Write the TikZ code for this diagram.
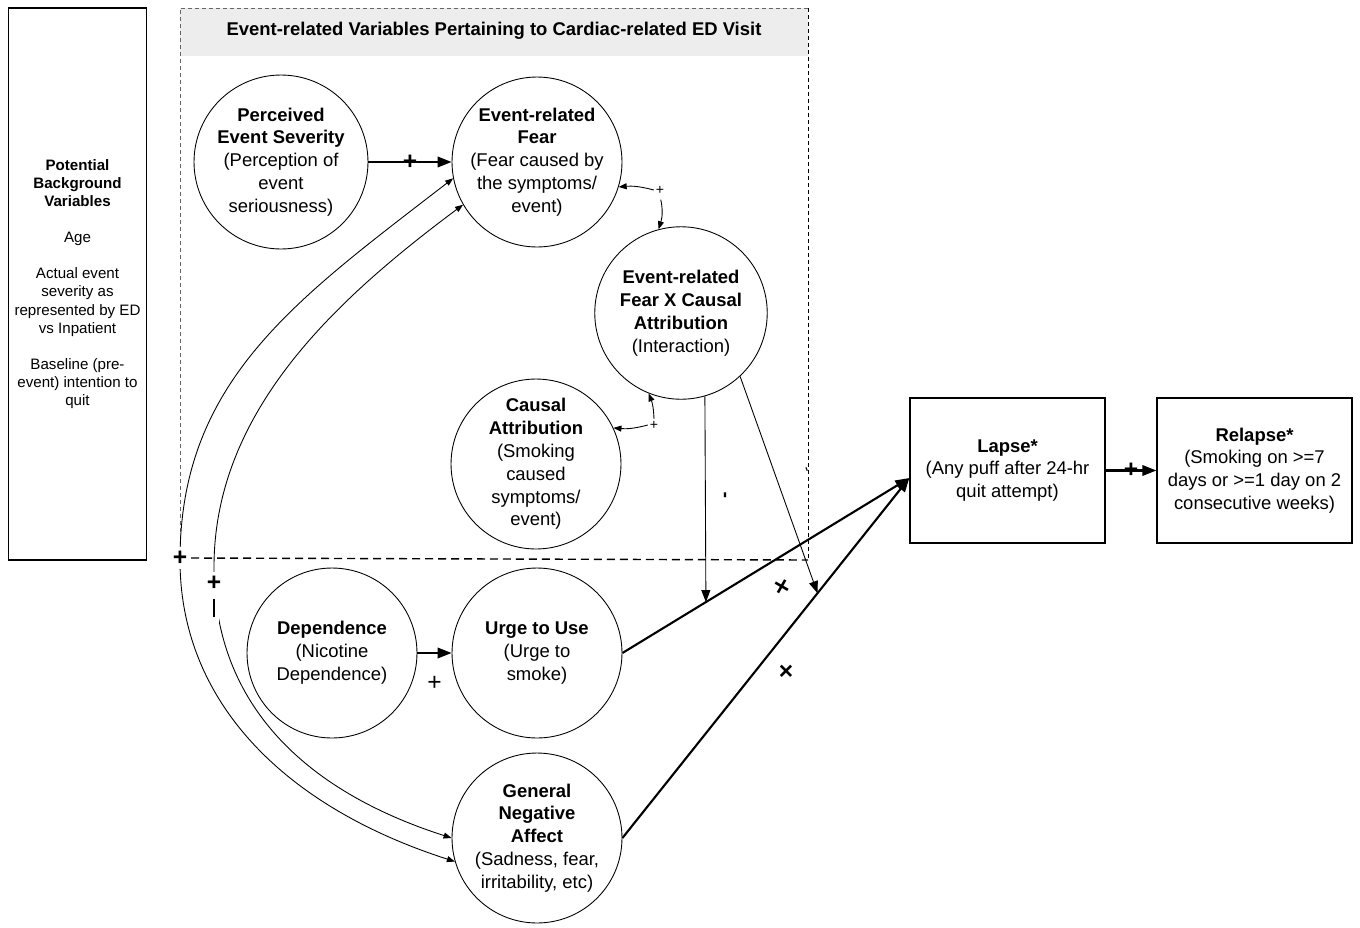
\documentclass[tikz,border=0pt]{standalone}
\usepackage{fontspec}
\setmainfont{Liberation Sans}
\usetikzlibrary{arrows.meta,calc}

\begin{document}
\begin{tikzpicture}[x=0.02cm, y=-0.02cm,
    var/.style={circle, draw, line width=0.5pt, minimum size=3.4cm, inner sep=-4pt,
                align=center, font=\fontsize{10.5}{13}\selectfont},
    box/.style={rectangle, draw, thick, minimum width=3.9cm, minimum height=2.9cm,
                align=center, font=\fontsize{10.5}{13}\selectfont},
    link/.style={very thick, -{Triangle[length=0.28cm, width=0.21cm]}},
    midlink/.style={line width=0.5pt, -{Triangle[length=0.24cm, width=0.18cm]}},
    thinlink/.style={line width=0.5pt, -{Triangle[length=0.16cm, width=0.12cm]}},
    twolink/.style={line width=0.5pt, {Triangle[length=0.16cm, width=0.12cm]}-{Triangle[length=0.16cm, width=0.12cm]}},
    sign/.style={font=\bfseries\fontsize{14}{14}\selectfont, inner sep=1pt},
    smallsign/.style={font=\fontsize{8}{8}\selectfont, inner sep=1pt}]
\useasboundingbox (0,0) rectangle (1360,927);
% background variables
\node[draw, thick, minimum width=2.7cm, minimum height=11.04cm, align=center,
      font=\fontsize{8.6}{10.3}\selectfont] (bg) at (77.5,284)
  {\textbf{Potential}\\\textbf{Background}\\\textbf{Variables}\\[0.36cm]Age\\[0.36cm]Actual event\\severity as\\represented by ED\\vs Inpatient\\[0.36cm]Baseline (pre-\\event) intention to\\quit};
% event-related frame with header band
\fill[black!7] (180,8) rectangle (808,56);
\draw[black!60, line width=0.5pt, dash pattern=on 0.08cm off 0.06cm] (180,560) -- (180,8) -- (808,8);
\draw[line width=0.5pt, dash pattern=on 0.08cm off 0.06cm] (808,8) -- (808,560);
\node[font=\bfseries\fontsize{10.5}{13}\selectfont] (title) at (494,31)
  {Event-related Variables Pertaining to Cardiac-related ED Visit};
% variables
\node[var, minimum size=3.48cm] (pes) at (281,162)
  {\textbf{Perceived}\\\textbf{Event Severity}\\(Perception of\\event\\seriousness)};
\node[var] (erf) at (537,162)
  {\textbf{Event-related}\\\textbf{Fear}\\(Fear caused by\\the symptoms/\\event)};
\node[var, minimum size=3.45cm] (efca) at (681,313)
  {\textbf{Event-related}\\\textbf{Fear X Causal}\\\textbf{Attribution}\\(Interaction)};
\node[var] (ca) at (536,464)
  {\textbf{Causal}\\\textbf{Attribution}\\(Smoking\\caused\\symptoms/\\event)};
\node[var] (dep) at (332,653)
  {\textbf{Dependence}\\(Nicotine\\Dependence)};
\node[var] (urge) at (537,653)
  {\textbf{Urge to Use}\\(Urge to\\smoke)};
\node[var] (gna) at (537,838)
  {\textbf{General}\\\textbf{Negative}\\\textbf{Affect}\\(Sadness, fear,\\irritability, etc)};
% outcomes
\node[box] (lapse) at (1007.5,470.5) {\textbf{Lapse*}\\(Any puff after 24-hr\\quit attempt)};
\node[box] (relapse) at (1254.5,470.5) {\textbf{Relapse*}\\(Smoking on >=7\\days or >=1 day on 2\\consecutive weeks)};
% fear <-> negative affect (two long curves)
\coordinate (oturn) at (180,560);
\coordinate (iturn) at (214,567);
\draw[twolink] (erf.191) .. controls (297,299) and (180,380) .. (oturn)
  .. controls (180,700) and (282,806) .. (gna.196);
\draw[twolink] (erf.210) .. controls (338,298) and (214,410) .. (iturn)
  .. controls (214,697) and (296,788) .. (gna.180);
\node[sign, fill=white, inner sep=2pt] (os) at (180,558) {+};
\node[sign, fill=white, inner sep=2pt] (is1) at (214,583) {+};
\node[fill=white, inner sep=2pt, minimum width=6pt, minimum height=22pt] (is2) at (214,608) {};
\draw[line width=1.6pt] ([yshift=5pt]is2.center) -- ([yshift=-5pt]is2.center);
% lower edge of the frame
\draw[thick, dash pattern=on 0.16cm off 0.1cm] (os.east) -- (808,560);
% direct paths
\draw[link] (pes.east) -- (erf.west) node[midway, sign] {+};
\draw[link] (dep.east) -- (urge.west) node[midway, yshift=-0.6cm, font=\fontsize{14}{14}\selectfont] {+};
\draw[link] (urge.east) -- ([yshift=-0.15cm]lapse.west);
\draw[link] (gna.east) -- ([yshift=-0.15cm]lapse.west);
\draw[link] (lapse.east) -- (relapse.west) node[midway, sign] {+};
% interaction term
\node[smallsign] (p1) at (660,190) {+};
\draw[thinlink] (p1.west) to[bend right=10] (erf.-17);
\draw[thinlink, shorten <=2pt] (p1.south) to[bend left=15] (efca.105);
\node[smallsign] (p2) at (654,425) {+};
\draw[thinlink] (p2.west) to[bend left=10] (ca.25);
\draw[thinlink] (p2.north) to[bend right=10] (efca.-112);
% moderation onto the lapse paths
\coordinate (u1) at ($(urge.east)!0.291!([yshift=-0.15cm]lapse.west)$);
\coordinate (g1) at ($(gna.east)!0.68!([yshift=-0.15cm]lapse.west)$);
\draw[midlink] (efca.-74) -- (u1);
\draw[midlink] (efca.-47) -- (g1);
\node[font=\bfseries\fontsize{11}{11}\selectfont, rotate=90, inner sep=1pt] (t1) at (727,495) {-};
\node[font=\fontsize{9}{9}\selectfont, rotate=-70, inner sep=1pt] (t2) at (805,470) {-};
\node[sign, rotate=15] (x1) at (782,588) {×};
\node[sign] (x2) at (786,672) {×};
\end{tikzpicture}
\end{document}
